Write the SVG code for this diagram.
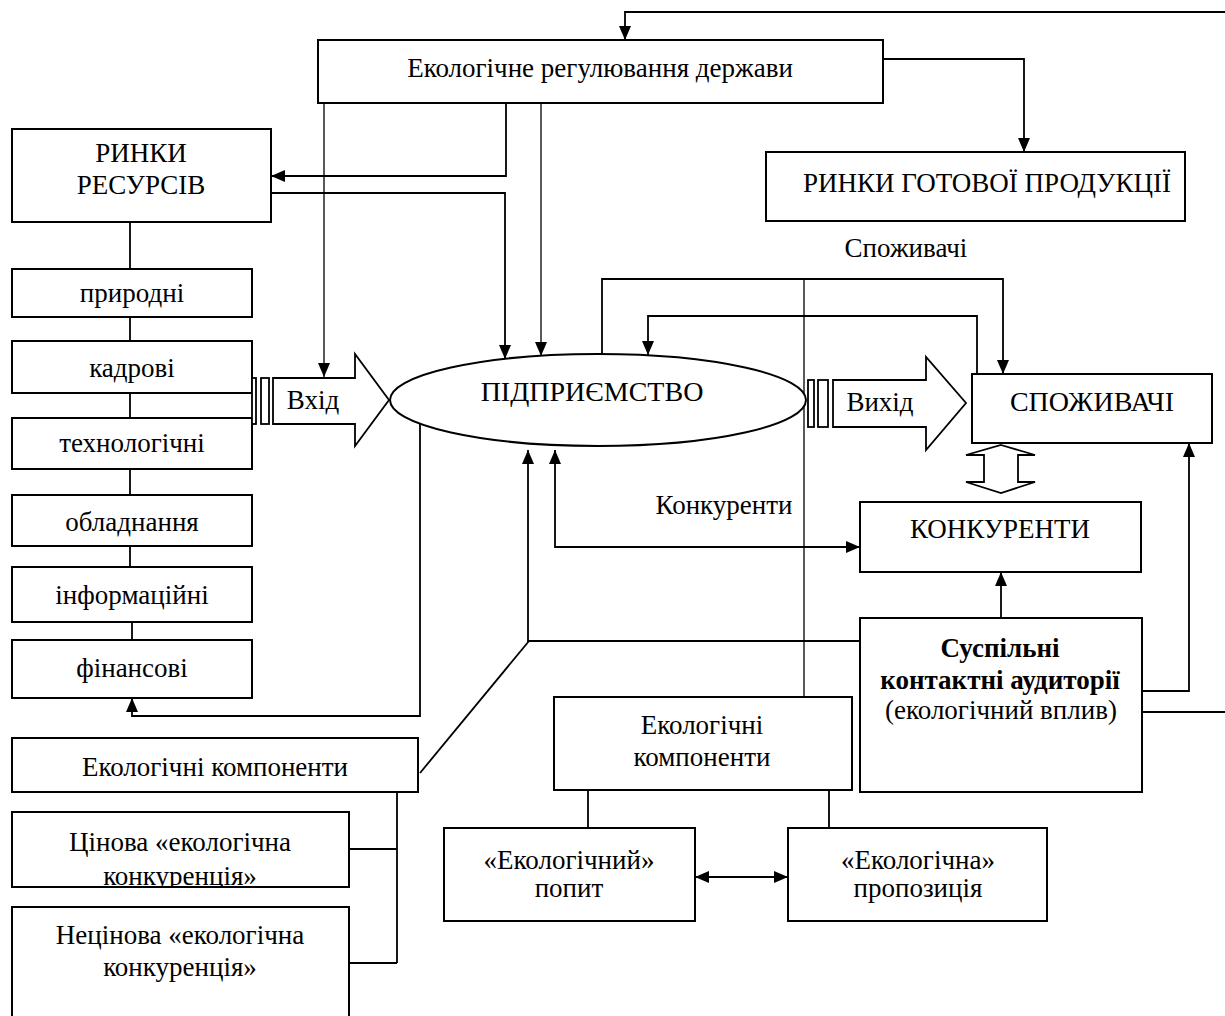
<svg xmlns="http://www.w3.org/2000/svg" width="1225" height="1016" viewBox="0 0 1225 1016">
  <style>
    .box { fill: #fff; stroke: #000; stroke-width: 2; }
    .ln { fill: none; stroke: #000; stroke-width: 1.8; }
    .thin { fill: none; stroke: #000; stroke-width: 1.3; }
    .blk { fill: #fff; stroke: #000; stroke-width: 1.8; }
    text { font-family: "Liberation Serif", "Times New Roman", serif; font-size: 27px; fill: #000; text-anchor: middle; }
    .b { font-weight: bold; }
    .big { font-size: 28px; }
  </style>
  <defs>
    <marker id="ah" viewBox="0 0 14 12" refX="14" refY="6" markerWidth="14" markerHeight="12" markerUnits="userSpaceOnUse" orient="auto-start-reverse">
      <path d="M0,0 L14,6 L0,12 z" fill="#000"/>
    </marker>
    <clipPath id="clipPrice"><rect x="12" y="812" width="337" height="75"/></clipPath>
  </defs>
  <rect width="1225" height="1016" fill="#fff"/>

  <!-- connectors -->
  <g id="connectors">
    <!-- feedback from public audiences to state regulation -->
    <path class="ln" d="M1142,712 H1227 V12 H625 V40" marker-end="url(#ah)"/>
    <!-- state -> finished goods markets -->
    <path class="ln" d="M883,59 H1024 V152" marker-end="url(#ah)"/>
    <!-- state -> resource markets -->
    <path class="ln" d="M506,103 V176 H271" marker-end="url(#ah)"/>
    <!-- resource markets -> enterprise -->
    <path class="ln" d="M271,193 H505 V359" marker-end="url(#ah)"/>
    <!-- state -> input -->
    <path class="thin" d="M324,103 V377" marker-end="url(#ah)"/>
    <!-- state -> enterprise -->
    <path class="thin" d="M541,103 V356" marker-end="url(#ah)"/>
    <!-- enterprise -> consumers -->
    <path class="ln" d="M602,355 V279 H1003 V374" marker-end="url(#ah)"/>
    <!-- consumers -> enterprise -->
    <path class="ln" d="M977,374 V316 H648 V355" marker-end="url(#ah)"/>
    <!-- long vertical to ecological components -->
    <path class="thin" d="M804,279 V697"/>
    <!-- enterprise -> financial resources -->
    <path class="ln" d="M420,424 V716 H132 V698" marker-end="url(#ah)"/>
    <!-- public audiences -> enterprise -->
    <path class="ln" d="M860,641 H528 V450" marker-end="url(#ah)"/>
    <path class="ln" d="M529,641 L420,773"/>
    <!-- enterprise <-> competitors -->
    <path class="ln" d="M555,450 V547 H860" marker-start="url(#ah)" marker-end="url(#ah)"/>
    <!-- public audiences -> competitors -->
    <path class="ln" d="M1001,618 V572" marker-end="url(#ah)"/>
    <!-- public audiences -> consumers -->
    <path class="ln" d="M1142,691 H1189 V443" marker-end="url(#ah)"/>
    <!-- ecological components -> demand / supply -->
    <path class="ln" d="M588,790 V828 M829,790 V828"/>
    <!-- demand <-> supply -->
    <path class="ln" d="M695,877 H788" marker-start="url(#ah)" marker-end="url(#ah)"/>
    <!-- left ecological components -> competition boxes -->
    <path class="ln" d="M397,792 V963 M349,849 H397 M349,963 H397"/>
    <!-- resource chain -->
    <path class="ln" d="M130,222 V269 M130,317 V341 M130,393 V418 M130,469 V495 M130,546 V567 M132,622 V640"/>
    <!-- consumers <-> competitors hollow double arrow -->
    <polygon class="blk" points="1001,445 1035,455 1018,455 1018,482 1035,482 1001,493 966,482 984,482 984,455 966,455"/>
  </g>

  <g id="state">
    <rect class="box" x="318" y="40" width="565" height="63"/>
    <text x="600" y="77">Екологічне регулювання держави</text>
  </g>

  <g id="finished-markets">
    <rect class="box" x="766" y="152" width="419" height="69"/>
    <text x="987" y="192">РИНКИ ГОТОВОЇ ПРОДУКЦІЇ</text>
  </g>

  <text x="906" y="257">Споживачі</text>

  <g id="resource-markets">
    <rect class="box" x="12" y="129" width="259" height="93"/>
    <text x="141" y="162">РИНКИ</text>
    <text x="141" y="194">РЕСУРСІВ</text>
  </g>

  <g id="res-natural">
    <rect class="box" x="12" y="269" width="240" height="48"/>
    <text x="132" y="302">природні</text>
  </g>
  <g id="res-staff">
    <rect class="box" x="12" y="341" width="240" height="52"/>
    <text x="132" y="377">кадрові</text>
  </g>
  <g id="res-tech">
    <rect class="box" x="12" y="418" width="240" height="51"/>
    <text x="132" y="452">технологічні</text>
  </g>
  <g id="res-equipment">
    <rect class="box" x="12" y="495" width="240" height="51"/>
    <text x="132" y="531">обладнання</text>
  </g>
  <g id="res-info">
    <rect class="box" x="12" y="567" width="240" height="55"/>
    <text x="132" y="604">інформаційні</text>
  </g>
  <g id="res-finance">
    <rect class="box" x="12" y="640" width="240" height="58"/>
    <text x="132" y="677">фінансові</text>
  </g>

  <g id="input">
    <rect class="blk" x="252" y="378" width="4" height="46"/>
    <rect class="blk" x="261" y="378" width="8" height="46"/>
    <polygon class="blk" points="273,378 355,378 355,354 389,400 355,446 355,424 273,424"/>
    <text x="313" y="409">Вхід</text>
  </g>

  <g id="enterprise">
    <ellipse class="box" cx="598" cy="400" rx="208" ry="46"/>
    <text class="big" x="592" y="401">ПІДПРИЄМСТВО</text>
  </g>

  <g id="output">
    <rect class="blk" x="808" y="380" width="6" height="47"/>
    <rect class="blk" x="818" y="380" width="10" height="47"/>
    <polygon class="blk" points="833,380 926,380 926,357 966,403 926,450 926,427 833,427"/>
    <text x="880" y="411">Вихід</text>
  </g>

  <g id="consumers">
    <rect class="box" x="972" y="374" width="240" height="69"/>
    <text class="big" x="1092" y="411">СПОЖИВАЧІ</text>
  </g>

  <text x="724" y="514">Конкуренти</text>

  <g id="competitors">
    <rect class="box" x="860" y="502" width="281" height="70"/>
    <text x="1000" y="538">КОНКУРЕНТИ</text>
  </g>

  <g id="public-audiences">
    <rect class="box" x="860" y="618" width="282" height="174"/>
    <text class="b" x="1000" y="657">Суспільні</text>
    <text class="b" x="1000" y="689">контактні аудиторії</text>
    <text x="1001" y="719">(екологічний вплив)</text>
  </g>

  <g id="eco-components-center">
    <rect class="box" x="554" y="697" width="298" height="93"/>
    <text x="702" y="734">Екологічні</text>
    <text x="702" y="766">компоненти</text>
  </g>

  <g id="eco-demand">
    <rect class="box" x="444" y="828" width="251" height="93"/>
    <text x="569" y="869">«Екологічний»</text>
    <text x="569" y="897">попит</text>
  </g>

  <g id="eco-supply">
    <rect class="box" x="788" y="828" width="259" height="93"/>
    <text x="918" y="869">«Екологічна»</text>
    <text x="918" y="897">пропозиція</text>
  </g>

  <g id="eco-components-left">
    <rect class="box" x="12" y="738" width="406" height="54"/>
    <text x="215" y="776">Екологічні компоненти</text>
  </g>

  <g id="price-competition">
    <rect class="box" x="12" y="812" width="337" height="75"/>
    <g clip-path="url(#clipPrice)">
      <text x="180" y="851">Цінова «екологічна</text>
      <text x="180" y="885">конкуренція»</text>
    </g>
  </g>

  <g id="nonprice-competition">
    <rect class="box" x="12" y="907" width="337" height="120"/>
    <text x="180" y="944">Нецінова «екологічна</text>
    <text x="180" y="976">конкуренція»</text>
  </g>
</svg>
